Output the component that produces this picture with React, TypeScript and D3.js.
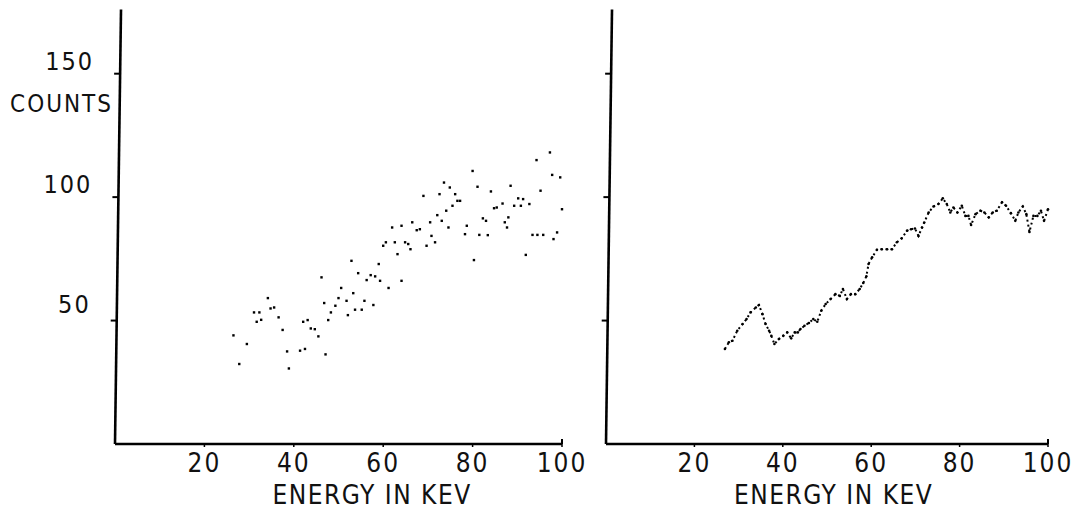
import React from "react";
import * as d3 from "d3";

// Left panel: raw scatter (energy keV, counts)
const rawEnergy = [26.5, 27.8, 29.5, 31.1, 32.3, 31.7, 32.7, 34.2, 34.8, 35.6, 36.6, 37.5, 38.5, 38.9, 41.4, 42.5, 42.1, 43.1, 43.8, 44.7, 45.5, 46.2, 46.8, 47.1, 47.7, 48.3, 49.3, 50.0, 50.6, 52.1, 51.8, 52.9, 53.3, 53.7, 54.4, 55.2, 55.8, 56.3, 57.2, 57.8, 58.2, 59.0, 59.3, 60.0, 60.6, 61.2, 62.0, 62.6, 63.2, 64.1, 64.1, 64.9, 65.6, 66.1, 66.5, 67.5, 68.2, 69.0, 69.7, 70.5, 70.8, 71.6, 72.1, 72.6, 73.1, 73.6, 74.1, 74.6, 74.9, 75.5, 76.1, 76.6, 77.2, 78.3, 78.7, 80.0, 80.3, 81.1, 81.5, 82.3, 83.0, 83.4, 84.1, 84.8, 85.4, 86.7, 87.2, 87.7, 88.0, 88.5, 89.3, 90.2, 90.8, 91.3, 91.9, 92.7, 93.4, 94.3, 94.5, 95.2, 95.8, 97.3, 97.8, 98.1, 98.9, 99.6, 100.0];
const rawCounts = [44, 32.4, 40.5, 53.3, 53.3, 49.5, 50.3, 59.1, 54.9, 55.3, 51.3, 46.2, 37.5, 30.6, 37.8, 38.5, 49.5, 50.2, 46.8, 46.5, 43.6, 67.5, 57.1, 36.3, 50.2, 53.3, 56, 59.1, 63.2, 52.2, 58, 74.2, 61.1, 54.4, 69.2, 54.4, 58, 66.4, 68.4, 56.3, 67.9, 72.9, 66.1, 80.3, 81.7, 63.2, 87.7, 81.7, 76.9, 88.4, 66.1, 81.7, 81, 78.9, 89.8, 86.6, 87, 100.5, 80.3, 89.8, 84.3, 81.7, 92.7, 101.2, 90.4, 105.9, 94.5, 87.7, 103.9, 96.5, 101.2, 98.5, 98.5, 85, 88.4, 110.6, 74.5, 104.2, 84.7, 91.4, 90.4, 84.6, 102.3, 95.5, 95.8, 97.4, 89.8, 87.7, 91.8, 104.6, 96.5, 99.5, 96.5, 99.2, 76.6, 97.2, 84.7, 115, 84.7, 102.6, 84.7, 118.1, 109, 83, 85.7, 108, 95.1];

// Right panel: smoothed spectrum
const smoothEnergy = [26.9, 27.8, 28.6, 29.7, 30.9, 31.8, 32.7, 33.9, 34.6, 35.4, 36.1, 36.9, 37.4, 38.1, 39.1, 40.1, 41.0, 41.9, 42.7, 43.4, 44.0, 44.9, 45.9, 46.9, 47.8, 48.7, 49.7, 50.8, 51.9, 52.9, 53.6, 54.5, 55.4, 56.4, 57.4, 58.2, 58.9, 59.4, 60.2, 61.3, 62.4, 63.6, 64.7, 65.8, 66.9, 68.1, 69.0, 69.9, 70.7, 71.5, 72.0, 73.0, 74.1, 75.2, 76.2, 77.1, 77.9, 78.6, 79.5, 80.5, 81.3, 82.0, 82.6, 83.6, 84.7, 85.6, 86.6, 87.5, 88.4, 89.6, 90.5, 91.6, 92.6, 93.3, 94.3, 95.1, 95.8, 96.7, 97.6, 98.4, 99.1, 100.0];
const smoothCounts = [38.5, 41.2, 41.8, 45.9, 48.6, 50.6, 53.3, 55.3, 56.3, 52.6, 48.6, 45.9, 43.8, 40.5, 42.5, 43.8, 45.2, 42.8, 45.2, 45.2, 46.6, 47.9, 49, 50.6, 49.5, 54, 56.7, 58.7, 60.7, 60, 62.8, 58.7, 60.7, 60.7, 62.8, 65.2, 67.9, 72.9, 75.6, 78.7, 78.9, 78.9, 78.9, 81.7, 83.3, 86.4, 87, 87.3, 84.3, 87.7, 89.7, 93.8, 96.2, 97.2, 99.5, 97.2, 93.8, 95.8, 93.8, 96.5, 92.4, 92.4, 88.7, 93.1, 94.5, 93.8, 91.8, 93.8, 94.5, 97.9, 96.5, 93.5, 90.4, 93.8, 96.2, 93.1, 85.9, 92.4, 92.4, 94.5, 90.4, 95.1];

const xTicks = [20, 40, 60, 80, 100];
const yTicks = [50, 100, 150];
const yLabels = ["50", "100", "150"];
const xTitle = "ENERGY IN KEV";
const yTitle = "COUNTS";

const FONT = '"Liberation Sans Narrow", "DejaVu Sans Condensed", "Roboto Condensed", sans-serif';

export default function App() {
  const W = 1083, H = 516;
  const y = d3.scaleLinear().domain([0, 176]).range([444, 9.5]);
  const xL = d3.scaleLinear().domain([0, 100]).range([115, 562]);
  const xR = d3.scaleLinear().domain([0, 100]).range([606, 1048]);
  const slant = 6 / 434;

  const rawPts = rawEnergy.map((e, i) => [e, rawCounts[i]] as [number, number]);
  const smoothPts = smoothEnergy.map((e, i) => [e, smoothCounts[i]] as [number, number]);
  const line = d3.line<[number, number]>().x(d => xR(d[0])).y(d => y(d[1]));

  const panel = (x: d3.ScaleLinear<number, number>, showY: boolean, titleAt: number, key: string) => {
    const x0 = x(0);
    const yTop = y(176);
    const yBot = y(0);
    const sx = (yy: number) => x0 + (yBot - yy) * slant;
    return (
      <g key={key}>
        <line x1={x0} y1={yBot} x2={sx(yTop)} y2={yTop} stroke="#000" strokeWidth={2.6} />
        <line x1={x0} y1={yBot} x2={x(100)} y2={yBot} stroke="#000" strokeWidth={2.6} />
        <line x1={x(100)} y1={yBot} x2={x(100)} y2={yBot - 5} stroke="#000" strokeWidth={2} />
        {xTicks.map(t => (
          <g key={"xt" + t}>
            <line x1={x(t)} y1={yBot} x2={x(t)} y2={yBot + 3} stroke="#000" strokeWidth={1.5} />
            <text x={x(t)} y={yBot + 28} textAnchor="middle" fontFamily={FONT} fontSize={26} letterSpacing={2} fill="#111">{t}</text>
          </g>
        ))}
        {yTicks.map((t, i) => (
          <g key={"yt" + t}>
            <line x1={sx(y(t)) - 6} y1={y(t)} x2={sx(y(t))} y2={y(t)} stroke="#000" strokeWidth={2} />
            {showY && (
              <text x={sx(y(t)) - 26} y={y(t) - (t === 50 ? 8 : 4)} textAnchor="end" fontFamily={FONT} fontSize={25} letterSpacing={2} fill="#111">{yLabels[i]}</text>
            )}
          </g>
        ))}
        <text x={x(titleAt)} y={504} textAnchor="middle" fontFamily={FONT} fontSize={26} letterSpacing={1.5} fill="#111">{xTitle}</text>
      </g>
    );
  };

  return (
    <svg width={W} height={H} style={{ position: "absolute", left: 0, top: 0, background: "#fff" }}>
      <rect x={0} y={0} width={W} height={H} fill="#fff" />
      {panel(xL, true, 57.5, "L")}
      {panel(xR, false, 51.5, "R")}
      <text x={113} y={112} textAnchor="end" fontFamily={FONT} fontSize={24} letterSpacing={2} fill="#111">{yTitle}</text>
      {rawPts.map((d, i) => (
        <rect key={"r" + i} x={xL(d[0]) - 1.2} y={y(d[1]) - 1.2} width={2.4} height={2.4} fill="#000" />
      ))}
      <path d={line(smoothPts) || ""} fill="none" stroke="#000" strokeWidth={2} strokeDasharray="2 3" />
      {smoothPts.map((d, i) => (
        <circle key={"s" + i} cx={xR(d[0])} cy={y(d[1])} r={1.3} fill="#000" />
      ))}
    </svg>
  );
}
